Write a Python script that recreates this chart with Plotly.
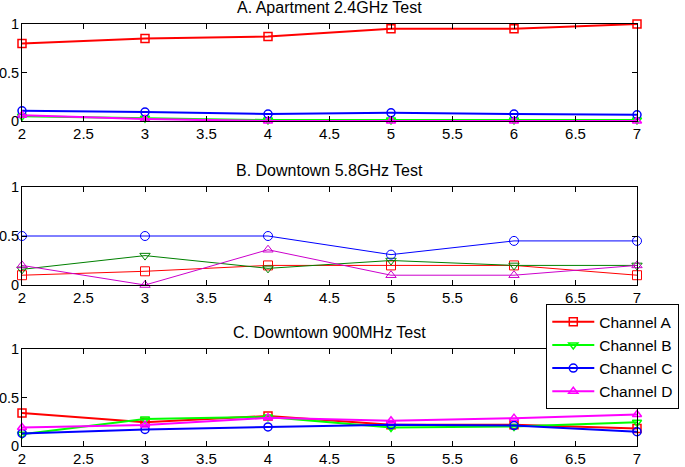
import plotly.graph_objects as go
from plotly.subplots import make_subplots

x_vals = [2, 3, 4, 5, 6, 7]
titles = ["A. Apartment 2.4GHz Test", "B. Downtown 5.8GHz Test", "C. Downtown 900MHz Test"]
channels = ["Channel A", "Channel B", "Channel C", "Channel D"]

# Panel A: Apartment 2.4GHz
apt_a = [0.80, 0.85, 0.87, 0.95, 0.95, 1.00]
apt_b = [0.05, 0.03, 0.01, 0.01, 0.01, 0.01]
apt_c = [0.105, 0.093, 0.072, 0.085, 0.072, 0.065]
apt_d = [0.06, 0.02, 0.0, 0.0, 0.0, 0.0]

# Panel B: Downtown 5.8GHz
d58_a = [0.10, 0.14, 0.20, 0.20, 0.20, 0.10]
d58_b = [0.16, 0.30, 0.17, 0.25, 0.20, 0.20]
d58_c = [0.50, 0.50, 0.50, 0.31, 0.45, 0.45]
d58_d = [0.20, 0.00, 0.36, 0.10, 0.10, 0.20]

# Panel C: Downtown 900MHz
d900_a = [0.34, 0.245, 0.31, 0.22, 0.22, 0.18]
d900_b = [0.12, 0.277, 0.30, 0.19, 0.20, 0.245]
d900_c = [0.13, 0.17, 0.196, 0.22, 0.21, 0.147]
d900_d = [0.19, 0.217, 0.29, 0.26, 0.287, 0.325]

panels = [
    [apt_a, apt_b, apt_c, apt_d],
    [d58_a, d58_b, d58_c, d58_d],
    [d900_a, d900_b, d900_c, d900_d],
]

symbols = ["square-open", "triangle-down-open", "circle-open", "triangle-up-open"]
bright = ["#ff0000", "#00ff00", "#0000ff", "#ff00ff"]
thin = ["#ff0000", "#008000", "#0000ff", "#cc00cc"]

fig = make_subplots(rows=3, cols=1, vertical_spacing=0.1)

for r, series in enumerate(panels):
    for i, ys in enumerate(series):
        if r == 1:
            col, lw, ms, mlw = thin[i], 1, 9, 1
        else:
            col, lw, ms, mlw = bright[i], 2, 8, 1.5
        fig.add_trace(
            go.Scatter(
                x=x_vals, y=ys, mode="lines+markers", name=channels[i],
                line=dict(color=col, width=lw),
                marker=dict(symbol=symbols[i], size=ms, color=col,
                            line=dict(color=col, width=mlw)),
                showlegend=(r == 2),
                cliponaxis=False,
            ),
            row=r + 1, col=1,
        )

domains = [[0.770, 1.0], [0.3815, 0.6137], [0.0, 0.230]]
for r in range(3):
    ax = "" if r == 0 else str(r + 1)
    fig.layout["xaxis" + ax].update(
        domain=[0, 1], range=[2, 7], dtick=0.5, tick0=2,
        ticks="inside", ticklen=5, tickcolor="black",
        showline=True, linecolor="black", linewidth=1, mirror="ticks",
        showgrid=False, zeroline=False, automargin=False,
        tickfont=dict(size=15, color="black"),
        ticklabelstandoff=-1,
    )
    fig.layout["yaxis" + ax].update(
        domain=domains[r], range=[0, 1], tickvals=[0, 0.5, 1],
        ticktext=["0", "0.5", "1"],
        ticks="inside", ticklen=5, tickcolor="black",
        showline=True, linecolor="black", linewidth=1, mirror="ticks",
        showgrid=False, zeroline=False, automargin=False,
        tickfont=dict(size=14.5, color="black"),
        ticklabelstandoff=-1,
    )

title_y = [1.038, 0.654, 0.268]
for t, yy in zip(titles, title_y):
    fig.add_annotation(text=t, x=0.5, y=yy, xref="paper", yref="paper",
                       showarrow=False, yanchor="middle",
                       font=dict(size=16, color="black"))

fig.update_layout(
    width=685, height=467,
    margin=dict(l=22, r=48, t=24, b=21, autoexpand=False),
    paper_bgcolor="white", plot_bgcolor="white",
    font=dict(family="Liberation Sans, Arial, sans-serif", size=16, color="black"),
    legend=dict(x=0.8525, y=0.336, xanchor="left", yanchor="top",
                bgcolor="white", bordercolor="black", borderwidth=1,
                itemwidth=42,
                font=dict(size=15.5, color="black"), tracegroupgap=0),
)

fig.write_html("out.html", config={"displayModeBar": False},
               post_script="document.body.style.margin='0';")
